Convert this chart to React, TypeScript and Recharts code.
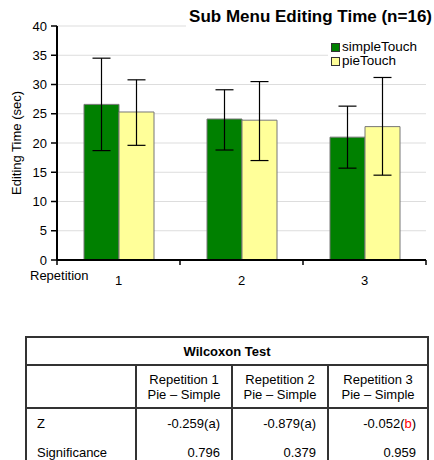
import React from 'react';
import { BarChart, Bar, XAxis, YAxis, CartesianGrid, ErrorBar } from 'recharts';

const categories = ['1', '2', '3'];
const simpleTouch = [26.6, 24.1, 21.0];
const pieTouch = [25.3, 23.9, 22.8];
const simpleLow = [18.7, 18.8, 15.7];
const simpleHigh = [34.5, 29.1, 26.3];
const pieLow = [19.6, 17.0, 14.5];
const pieHigh = [30.8, 30.5, 31.2];
const yTicks = [0, 5, 10, 15, 20, 25, 30, 35, 40];
const seriesNames = ['simpleTouch', 'pieTouch'];

const tableHeaders = ['Repetition 1', 'Repetition 2', 'Repetition 3'];
const zValues = ['-0.259', '-0.879', '-0.052'];
const zNotes = ['a', 'a', 'b'];
const sigValues = ['0.796', '0.379', '0.959'];

const data = categories.map((c, i) => ({
  cat: c,
  simpleTouch: simpleTouch[i],
  pieTouch: pieTouch[i],
  simpleErr: [simpleTouch[i] - simpleLow[i], simpleHigh[i] - simpleTouch[i]],
  pieErr: [pieTouch[i] - pieLow[i], pieHigh[i] - pieTouch[i]],
}));

const FONT = 'Arial, "Liberation Sans", Helvetica, sans-serif';
const GREEN = '#008000';
const YELLOW = '#FFFF99';
const seriesColors = [GREEN, YELLOW];

const XTick = (props: any) => {
  const { x, y, payload, index, visibleTicksCount, width } = props;
  const band = width / visibleTicksCount;
  const axisY = y - 8;
  return (
    <g>
      <line x1={x - band / 2} y1={axisY} x2={x - band / 2} y2={axisY + 5} stroke="#000" strokeWidth={1.5} />
      {index === visibleTicksCount - 1 && (
        <line x1={x + band / 2} y1={axisY} x2={x + band / 2} y2={axisY + 5} stroke="#000" strokeWidth={1.5} />
      )}
      <text x={x} y={axisY + 25} textAnchor="middle" fontSize={13} fontFamily={FONT} fill="#000">
        {payload.value}
      </text>
      {index === 0 && (
        <text x={x - band / 2 - 27} y={axisY + 20} textAnchor="start" fontSize={13} fontFamily={FONT} fill="#000">
          Repetition
        </text>
      )}
    </g>
  );
};

const cellBorder = '2px solid #333';

export default function App() {
  return (
    <div style={{ position: 'absolute', left: 0, top: 0, width: 434, height: 460, background: '#fff', overflow: 'hidden', fontFamily: FONT }}>
      <BarChart
        width={434}
        height={300}
        data={data}
        margin={{ top: 26, right: 8, left: 0, bottom: 0 }}
        barSize={35}
        barGap={0}
      >
        <CartesianGrid horizontal vertical={false} stroke="#dddddd" />
        <YAxis
          domain={[0, 40]}
          ticks={yTicks}
          width={57}
          interval={0}
          tick={{ fontSize: 13, fill: '#000', fontFamily: FONT }}
          tickSize={6}
          tickMargin={4}
          axisLine={{ stroke: '#000', strokeWidth: 2 }}
          tickLine={{ stroke: '#000', strokeWidth: 1.5 }}
          label={{
            content: (p: any) => {
              const vb = p.viewBox;
              const cx = vb.x + 16;
              const cy = vb.y + vb.height / 2;
              return (
                <text x={cx} y={cy} transform={`rotate(-90 ${cx} ${cy})`} textAnchor="middle" dominantBaseline="central" fontSize={13} fontFamily={FONT} fill="#000">
                  Editing Time (sec)
                </text>
              );
            },
          }}
        />
        <XAxis
          dataKey="cat"
          height={40}
          interval={0}
          tickLine={false}
          axisLine={{ stroke: '#000', strokeWidth: 2 }}
          tick={<XTick />}
        />
        <Bar dataKey="simpleTouch" name="simpleTouch" fill={GREEN} stroke="#777" strokeWidth={1} isAnimationActive={false}>
          <ErrorBar dataKey="simpleErr" width={9} stroke="#000" strokeWidth={1.2} direction="y" />
        </Bar>
        <Bar dataKey="pieTouch" name="pieTouch" fill={YELLOW} stroke="#777" strokeWidth={1} isAnimationActive={false}>
          <ErrorBar dataKey="pieErr" width={9} stroke="#000" strokeWidth={1.2} direction="y" />
        </Bar>
      </BarChart>
      <div
        style={{
          position: 'absolute',
          left: 186,
          top: 5,
          width: 246,
          paddingRight: 2,
          background: '#fff',
          textAlign: 'right',
          fontWeight: 'bold',
          fontSize: 17,
          lineHeight: '24px',
          color: '#000',
        }}
      >
        Sub Menu Editing Time (n=16)
      </div>
      <div
        style={{
          position: 'absolute',
          left: 328,
          top: 38,
          width: 106,
          background: '#fff',
          fontSize: 13.5,
          lineHeight: '14px',
          padding: '2px 0 4px 3px',
          boxSizing: 'border-box',
        }}
      >
        {seriesNames.map((n, i) => (
          <div key={n} style={{ display: 'flex', alignItems: 'center', height: 14 }}>
            <span
              style={{
                display: 'inline-block',
                width: 7,
                height: 7,
                background: seriesColors[i],
                border: '1px solid #333',
                marginRight: 2,
                flex: 'none',
              }}
            />
            <span style={{ color: '#000' }}>{n}</span>
          </div>
        ))}
      </div>
      <table
        style={{
          position: 'absolute',
          left: 25,
          top: 336,
          width: 403,
          borderCollapse: 'collapse',
          border: cellBorder,
          fontSize: 13,
          color: '#000',
          tableLayout: 'fixed',
        }}
      >
        <colgroup>
          <col style={{ width: 110 }} />
          <col style={{ width: 96 }} />
          <col style={{ width: 96 }} />
          <col style={{ width: 100 }} />
        </colgroup>
        <tbody>
          <tr style={{ height: 28 }}>
            <td colSpan={4} style={{ border: cellBorder, textAlign: 'center', fontWeight: 'bold', padding: 0 }}>
              Wilcoxon Test
            </td>
          </tr>
          <tr style={{ height: 43 }}>
            <td style={{ border: cellBorder }} />
            {tableHeaders.map((h) => (
              <td key={h} style={{ border: cellBorder, textAlign: 'center', lineHeight: '15px', padding: 0 }}>
                {h}
                <br />
                Pie – Simple
              </td>
            ))}
          </tr>
          <tr style={{ height: 30 }}>
            <td style={{ borderLeft: cellBorder, borderRight: cellBorder, paddingLeft: 10 }}>Z</td>
            {zValues.map((v, i) => (
              <td key={i} style={{ borderLeft: cellBorder, borderRight: cellBorder, textAlign: 'right', paddingRight: 11 }}>
                {v}(<span style={{ color: zNotes[i] === 'b' ? '#ff0000' : '#000' }}>{zNotes[i]}</span>)
              </td>
            ))}
          </tr>
          <tr style={{ height: 30 }}>
            <td style={{ borderLeft: cellBorder, borderRight: cellBorder, paddingLeft: 10 }}>Significance</td>
            {sigValues.map((v, i) => (
              <td key={i} style={{ borderLeft: cellBorder, borderRight: cellBorder, textAlign: 'right', paddingRight: 11 }}>
                {v}
              </td>
            ))}
          </tr>
        </tbody>
      </table>
    </div>
  );
}
